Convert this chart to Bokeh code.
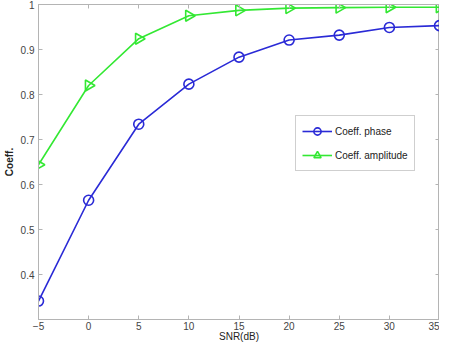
import numpy as np
from bokeh.plotting import figure
from bokeh.models import LinearAxis, Range1d, Legend, LegendItem, FixedTicker, ColumnDataSource
from bokeh.embed import file_html
from bokeh.resources import INLINE

snr = [-5, 0, 5, 10, 15, 20, 25, 30, 35]
coeff_phase = [0.341, 0.565, 0.734, 0.823, 0.883, 0.921, 0.932, 0.949, 0.953]
coeff_amplitude = [0.644, 0.820, 0.924, 0.975, 0.987, 0.992, 0.993, 0.994, 0.994]
x_ticks = [-5, 0, 5, 10, 15, 20, 25, 30, 35]
y_ticks = [0.4, 0.5, 0.6, 0.7, 0.8, 0.9, 1.0]
y_tick_labels = {0.4: "0.4", 0.5: "0.5", 0.6: "0.6", 0.7: "0.7", 0.8: "0.8", 0.9: "0.9", 1.0: "1"}

BLUE = "#2a2ad6"
GREEN = "#33e833"
AXIS = "#b4b4b4"
FONT = "Liberation Sans"

p = figure(width=439, height=344, output_backend="svg", toolbar_location=None,
           x_range=Range1d(-5, 35), y_range=Range1d(0.3, 1.0),
           min_border_left=29, min_border_right=0, min_border_top=4, min_border_bottom=0)
p.grid.visible = False
p.outline_line_color = AXIS
p.background_fill_color = "white"

def style_axis(ax, labels=True):
    ax.axis_line_color = AXIS
    ax.major_tick_line_color = AXIS
    ax.major_tick_in = 4
    ax.major_tick_out = 0
    ax.minor_tick_line_color = None
    ax.major_label_text_font = FONT
    ax.major_label_text_font_size = "10px"
    ax.major_label_text_color = "#444444"
    ax.axis_label_text_font = FONT
    ax.axis_label_text_font_size = "10px"
    ax.axis_label_text_font_style = "normal"
    ax.axis_label_text_color = "#222222"
    if not labels:
        ax.major_label_standoff = 0

p.xaxis.ticker = FixedTicker(ticks=x_ticks)
p.yaxis.ticker = FixedTicker(ticks=y_ticks)
p.yaxis.major_label_overrides = y_tick_labels
p.xaxis.axis_label = "SNR(dB)"
p.yaxis.axis_label = "Coeff."
style_axis(p.xaxis[0])
style_axis(p.yaxis[0])
p.xaxis.major_label_standoff = 2
p.xaxis.axis_label_standoff = -2
p.yaxis.major_label_standoff = 4
p.yaxis.axis_label_standoff = 3
p.yaxis.axis_label_text_font_style = "bold"

top = LinearAxis(ticker=FixedTicker(ticks=x_ticks),
                 major_label_overrides={t: "" for t in x_ticks})
style_axis(top, labels=False)
p.add_layout(top, "above")
right = LinearAxis(ticker=FixedTicker(ticks=y_ticks),
                   major_label_overrides={t: "" for t in y_ticks})
style_axis(right, labels=False)
p.add_layout(right, "right")

amp_src = ColumnDataSource(data=dict(x=snr, y=coeff_amplitude,
                                     ang=[-np.pi / 2] * len(snr)))

l1 = p.line(snr, coeff_phase, line_color=BLUE, line_width=1.6)
m1 = p.scatter(snr, coeff_phase, marker="circle", size=10, line_color=BLUE,
               fill_color=None, line_width=1.6)
l2 = p.line(snr, coeff_amplitude, line_color=GREEN, line_width=1.6)
m2 = p.scatter("x", "y", source=amp_src, marker="triangle", size=11, angle="ang",
               line_color=GREEN, fill_color=None, line_width=1.6)

legend = Legend(items=[LegendItem(label="Coeff. phase", renderers=[l1, m1], index=0),
                       LegendItem(label="Coeff. amplitude", renderers=[l2, m2], index=0)],
                location=(257, 148), padding=6, spacing=6, glyph_height=18,
                glyph_width=30, label_standoff=3, margin=0,
                border_line_color="#a0a0a0", label_text_font=FONT,
                label_text_font_size="10px", label_text_color="#222222",
                background_fill_alpha=1.0)
p.add_layout(legend, "center")

open("out.html", "w").write(file_html(p, INLINE))
